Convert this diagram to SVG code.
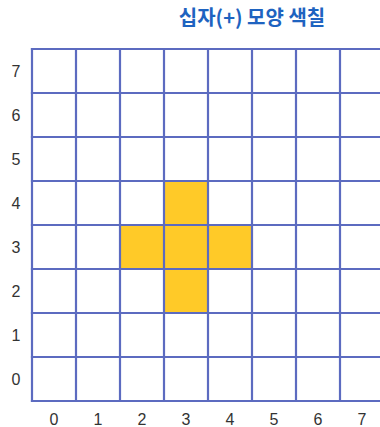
<svg xmlns="http://www.w3.org/2000/svg" width="380" height="427" viewBox="0 0 380 427">
<style>
.cell{fill:#ffca28}
.grid line{stroke:#5c6bc0;stroke-width:2.2;stroke-linecap:square}
.lbl{font-family:"Liberation Sans",Arial,sans-serif;font-size:16px;fill:#333;text-anchor:middle}
.title{font-family:"Noto Sans CJK KR","Noto Sans",sans-serif;font-size:20px;font-weight:bold;fill:#1e63c0;text-anchor:middle}
</style>
<rect width="380" height="427" fill="#fff"/>
<text class="title" x="252" y="25">십자(+) 모양 색칠</text>
<g id="cells">
<rect class="cell" x="164" y="181" width="44" height="44"/>
<rect class="cell" x="120" y="225" width="44" height="44"/>
<rect class="cell" x="164" y="225" width="44" height="44"/>
<rect class="cell" x="208" y="225" width="44" height="44"/>
<rect class="cell" x="164" y="269" width="44" height="44"/>
</g>
<g id="grid" class="grid">
<line x1="32" y1="49" x2="32" y2="401"/>
<line x1="76" y1="49" x2="76" y2="401"/>
<line x1="120" y1="49" x2="120" y2="401"/>
<line x1="164" y1="49" x2="164" y2="401"/>
<line x1="208" y1="49" x2="208" y2="401"/>
<line x1="252" y1="49" x2="252" y2="401"/>
<line x1="296" y1="49" x2="296" y2="401"/>
<line x1="340" y1="49" x2="340" y2="401"/>
<line x1="32" y1="49" x2="384" y2="49"/>
<line x1="32" y1="93" x2="384" y2="93"/>
<line x1="32" y1="137" x2="384" y2="137"/>
<line x1="32" y1="181" x2="384" y2="181"/>
<line x1="32" y1="225" x2="384" y2="225"/>
<line x1="32" y1="269" x2="384" y2="269"/>
<line x1="32" y1="313" x2="384" y2="313"/>
<line x1="32" y1="357" x2="384" y2="357"/>
<line x1="32" y1="401" x2="384" y2="401"/>
</g>
<g id="ylabels">
<text class="lbl" x="16" y="77">7</text>
<text class="lbl" x="16" y="121">6</text>
<text class="lbl" x="16" y="165">5</text>
<text class="lbl" x="16" y="209">4</text>
<text class="lbl" x="16" y="253">3</text>
<text class="lbl" x="16" y="297">2</text>
<text class="lbl" x="16" y="341">1</text>
<text class="lbl" x="16" y="385">0</text>
</g>
<g id="xlabels">
<text class="lbl" x="54" y="425">0</text>
<text class="lbl" x="98" y="425">1</text>
<text class="lbl" x="142" y="425">2</text>
<text class="lbl" x="186" y="425">3</text>
<text class="lbl" x="230" y="425">4</text>
<text class="lbl" x="274" y="425">5</text>
<text class="lbl" x="318" y="425">6</text>
<text class="lbl" x="362" y="425">7</text>
</g>
</svg>
